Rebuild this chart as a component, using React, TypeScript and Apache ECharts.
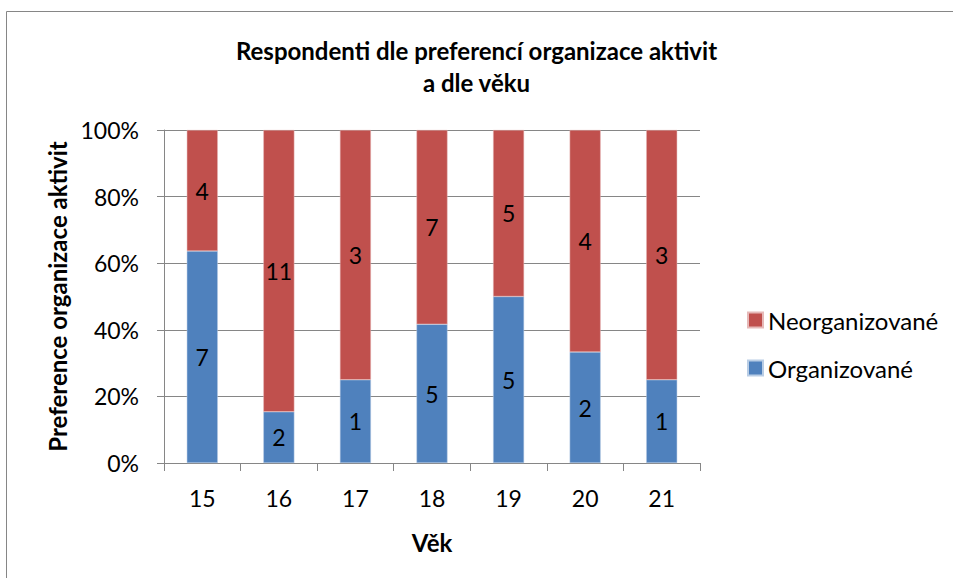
import React, { useEffect, useRef } from "react";
import * as echarts from "echarts";

const categories = ["15", "16", "17", "18", "19", "20", "21"];
const organizovane = [7, 2, 1, 5, 5, 2, 1];
const neorganizovane = [4, 11, 3, 7, 5, 4, 3];
const yTicks = [0, 20, 40, 60, 80, 100];

const FONT = "Lato, 'Open Sans', sans-serif";

export default function App() {
  const ref = useRef<HTMLDivElement>(null);
  useEffect(() => {
    if (!ref.current) return;
    const chart = echarts.init(ref.current, null, { renderer: "svg" });
    const totals = categories.map((_, i) => organizovane[i] + neorganizovane[i]);
    const orgPct = organizovane.map((v, i) => ({ value: (v / totals[i]) * 100, count: v }));
    const neoPct = neorganizovane.map((v, i) => ({ value: (v / totals[i]) * 100, count: v }));
    const labelCfg = {
      show: true,
      position: "inside",
      fontSize: 23,
      color: "#000",
      fontFamily: FONT,
      formatter: (p: any) => String(p.data.count),
    };
    chart.setOption({
      animation: false,
      backgroundColor: "#fff",
      textStyle: { fontFamily: FONT },
      title: {
        text: "Respondenti dle preferencí organizace aktivit\na dle věku",
        left: "center",
        top: 29,
        textStyle: { fontSize: 24, fontWeight: "bold", color: "#000", lineHeight: 32, fontFamily: FONT },
      },
      graphic: [
        {
          type: "rect",
          shape: { x: 6.5, y: 11.5, width: 1000, height: 700 },
          style: { fill: "none", stroke: "#868686", lineWidth: 1 },
          silent: true,
        },
      ],
      legend: {
        orient: "vertical",
        left: 742,
        top: 303,
        itemWidth: 15,
        itemHeight: 15,
        itemGap: 24,
        icon: "rect",
        data: ["Neorganizované", "Organizované"],
        textStyle: { fontSize: 24, color: "#000", fontFamily: FONT },
      },
      grid: { left: 164, right: 253, top: 130, bottom: 115 },
      xAxis: {
        type: "category",
        data: categories,
        name: "Věk",
        nameLocation: "middle",
        nameGap: 67,
        nameTextStyle: { fontSize: 24, fontWeight: "bold", color: "#000", fontFamily: FONT },
        axisLine: { lineStyle: { color: "#868686", width: 1 } },
        axisTick: { show: true, length: 8, lineStyle: { color: "#868686" } },
        axisLabel: { fontSize: 23, color: "#000", margin: 23, fontFamily: FONT },
      },
      yAxis: {
        type: "value",
        min: 0,
        max: 100,
        interval: 20,
        name: "Preference organizace aktivit",
        nameLocation: "middle",
        nameGap: 94,
        nameTextStyle: { fontSize: 24, fontWeight: "bold", color: "#000", fontFamily: FONT },
        axisLine: { show: true, lineStyle: { color: "#868686", width: 1 } },
        axisTick: { show: true, length: 7, lineStyle: { color: "#868686" } },
        splitLine: { show: true, lineStyle: { color: "#868686", width: 1 } },
        axisLabel: {
          fontSize: 23,
          color: "#000",
          margin: 25,
          fontFamily: FONT,
          formatter: (v: number) => (yTicks.includes(v) ? v + "%" : ""),
        },
      },
      series: [
        {
          name: "Organizované",
          type: "bar",
          stack: "total",
          barWidth: 31,
          data: orgPct,
          itemStyle: { color: "#4F81BD", borderColor: "#B9CDE5", borderWidth: 0.5 },
          label: labelCfg,
        },
        {
          name: "Neorganizované",
          type: "bar",
          stack: "total",
          barWidth: 31,
          data: neoPct,
          itemStyle: { color: "#C0504D", borderColor: "#E6B9B8", borderWidth: 0.5 },
          label: labelCfg,
        },
      ],
    });
    return () => chart.dispose();
  }, []);
  return (
    <div
      ref={ref}
      style={{ position: "absolute", left: 0, top: 0, width: 953, height: 578 }}
    />
  );
}
